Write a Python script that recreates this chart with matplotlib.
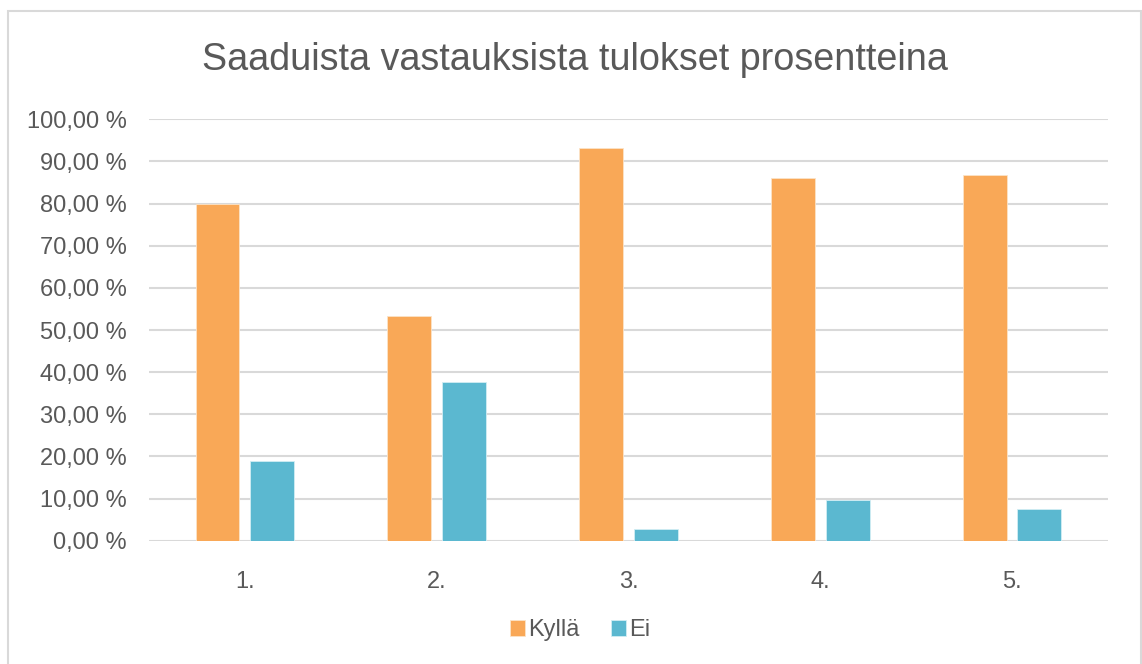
import numpy as np
import matplotlib.pyplot as plt
from matplotlib.patches import Rectangle

# data
categories = ["1.", "2.", "3.", "4.", "5."]
kylla = [80.0, 53.4, 93.1, 86.1, 86.8]
ei = [18.9, 37.7, 2.8, 9.7, 7.5]
yticks = [0, 10, 20, 30, 40, 50, 60, 70, 80, 90, 100]

ORANGE = "#F9A857"
BLUE = "#5BB8D0"
TEXT = "#595959"
GRID = "#D9D9D9"

plt.rcParams['font.family'] = ['Liberation Sans', 'DejaVu Sans']

fig = plt.figure(figsize=(11.42, 6.64), dpi=100)
ax = fig.add_axes([0.1305, 0.1857, 0.8396, 0.6346])

x = np.arange(len(categories))
w = 0.229
off = 0.143
ax.bar(x - off, kylla, w, color=ORANGE, edgecolor="#FCE3C7", linewidth=0.6,
       label="Kyllä", zorder=3)
ax.bar(x + off, ei, w, color=BLUE, edgecolor="#D2EDF4", linewidth=0.6,
       label="Ei", zorder=3)

ax.set_xlim(-0.5, len(categories) - 0.5)
ax.set_ylim(0, 100)
ax.set_yticks(yticks)
ax.set_yticklabels(["%d,00 %%" % v for v in yticks])
ax.set_xticks(x)
ax.set_xticklabels(categories)
ax.tick_params(axis='y', length=0, pad=16, labelsize=17, labelcolor=TEXT)
ax.tick_params(axis='x', length=0, pad=22, labelsize=17, labelcolor=TEXT)
ax.yaxis.grid(True, color=GRID, linewidth=1.5, zorder=0)
ax.set_axisbelow(True)
for s in ax.spines.values():
    s.set_visible(False)

fig.text(0.5035, 1 - 60 / 664, "Saaduista vastauksista tulokset prosentteina",
         ha='center', va='center', fontsize=27.2, color=TEXT)

leg = fig.legend(loc='center', bbox_to_anchor=(0.508, 1 - 630 / 664),
                 ncol=2, frameon=False, fontsize=17, handlelength=0.65,
                 handleheight=0.65, handletextpad=0.15, columnspacing=1.3,
                 labelcolor=TEXT)

# outer chart border
fig.patches.append(Rectangle((8 / 1142, -0.01), 1132.5 / 1142, 1 - 11 / 664 + 0.01,
                             transform=fig.transFigure, fill=False,
                             edgecolor=GRID, linewidth=1.5))

fig.savefig("out.png", dpi=100, facecolor="white")
